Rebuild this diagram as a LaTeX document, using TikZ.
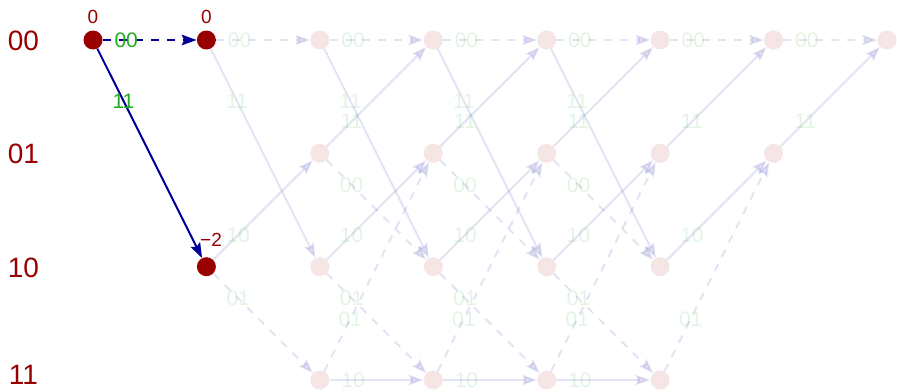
\documentclass[tikz,border=0pt]{standalone}
\usepackage{fontspec}
\setmainfont{Liberation Sans}
\usetikzlibrary{arrows.meta}
\definecolor{dkred}{HTML}{990000}
\definecolor{dkblue}{HTML}{000099}
\definecolor{lgreen}{HTML}{22AA22}
\newcommand\fed[4]{\draw[fedge,#3] (#1) -- node[flbl]{#4} (#2);}
\begin{document}
\begin{tikzpicture}[x=1pt,y=-1pt,
  anode/.style={circle,fill=dkred,minimum size=19pt,inner sep=0pt},
  fnode/.style={circle,fill=dkred,fill opacity=0.1,minimum size=19pt,inner sep=0pt},
  tip/.style={-{Stealth[length=15pt,width=10.5pt,inset=2.5pt]}},
  fedge/.style={draw=dkblue,line width=2pt,opacity=0.11,tip},
  aedge/.style={draw=dkblue,line width=2pt,tip},
  dsh/.style={dash pattern=on 8pt off 8pt},
  flbl/.style={pos=0.25,inner sep=0pt,text=lgreen,text opacity=0.13,font=\fontsize{21}{21}\selectfont},
  albl/.style={pos=0.25,inner sep=0pt,text=lgreen,text opacity=1,font=\fontsize{21}{21}\selectfont},
  cost/.style={inner sep=0pt,text=dkred,font=\fontsize{19}{19}\selectfont},
  state/.style={inner sep=0pt,text=dkred,font=\fontsize{28}{28}\selectfont}]
\useasboundingbox (0,0) rectangle (897,391);
% state labels
\node[state] (s00) at (23.5,41) {00};
\node[state] (s01) at (23.5,154) {01};
\node[state] (s10) at (23.5,267.5) {10};
\node[state] (s11) at (23.5,375) {11};
% faint nodes
\foreach \c in {2,3,4,5}
  \foreach \s/\y in {00/40,01/153.3,10/266.7,11/380}
    \node[fnode] (n\c\s) at ({93+113.43*\c},\y) {};
\node[fnode] (n600) at (773.6,40) {};
\node[fnode] (n601) at (773.6,153.3) {};
\node[fnode] (n700) at (887,40) {};
% active nodes
\node[anode] (n000) at (93,40) {};
\node[anode] (n100) at (206.4,40) {};
\node[anode] (n110) at (206.4,266.7) {};
% cost labels
\node[cost] (c0) at (93,16.5) {0};
\node[cost] (c1) at (206.4,16.5) {0};
\node[cost] (c2) at (211,240) {−2};
% faint edges, column 1
\fed{n100}{n200}{dsh}{00}
\fed{n100}{n210}{}{11}
\fed{n110}{n201}{}{10}
\fed{n110}{n211}{dsh}{01}
% columns 2-4
\foreach \c/\d in {2/3,3/4,4/5}{
  \fed{n\c00}{n\d00}{dsh}{00}
  \fed{n\c00}{n\d10}{}{11}
  \fed{n\c01}{n\d00}{}{11}
  \fed{n\c01}{n\d10}{dsh}{00}
  \fed{n\c10}{n\d01}{}{10}
  \fed{n\c10}{n\d11}{dsh}{01}
  \fed{n\c11}{n\d01}{dsh}{01}
  \fed{n\c11}{n\d11}{}{10}
}
% column 5
\fed{n500}{n600}{dsh}{00}
\fed{n501}{n600}{}{11}
\fed{n510}{n601}{}{10}
\fed{n511}{n601}{dsh}{01}
% column 6
\fed{n600}{n700}{dsh}{00}
\fed{n601}{n700}{}{11}
% active edges
\draw[aedge,dsh] (n000) -- node[albl]{00} (n100);
\draw[aedge] (n000) -- node[albl]{11} (n110);
\end{tikzpicture}
\end{document}
